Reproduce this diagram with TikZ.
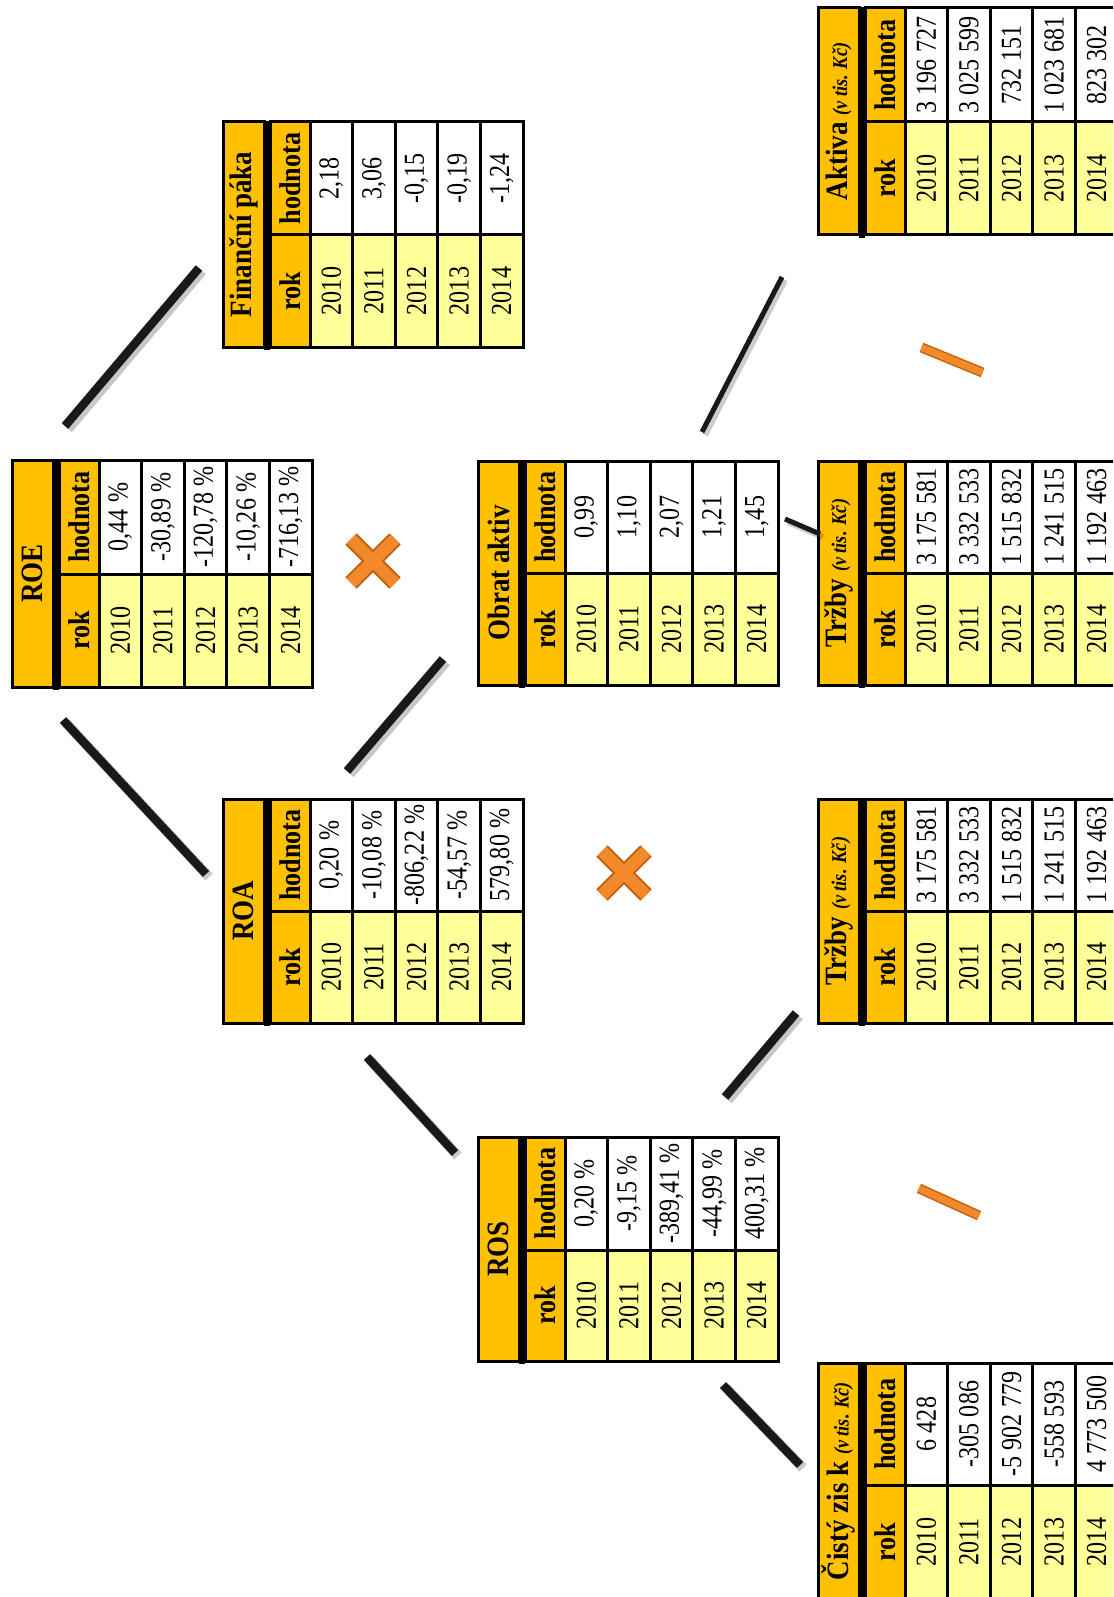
\documentclass[tikz,border=0pt]{standalone}
\usepackage{fontspec}
\setmainfont{Liberation Serif}
\usepackage{graphicx}
\usetikzlibrary{calc}
\definecolor{Gold}{HTML}{FFC000}
\definecolor{Cream}{HTML}{FFFF99}
\definecolor{Pumpkin}{HTML}{F2892B}
\definecolor{Rust}{HTML}{C4620E}
\newcommand\vtext[1]{\rotatebox{90}{\scalebox{.87}[1]{#1}}}
\newcommand\vnum[1]{\rotatebox{90}{\scalebox{.83}[1]{#1}}}
\newcommand\unit{{\itshape\fontsize{21}{22}\selectfont (v tis. Kč)}}
\tikzset{
 tabcell/.style={draw=black,line width=3pt,inner sep=0pt,outer sep=0pt,anchor=north west,minimum width=42.6},
 valcell/.style={tabcell,fill=white,font=\fontsize{29}{31}\selectfont},
 rokcell/.style={tabcell,fill=Cream,font=\fontsize{29}{31}\selectfont},
 headcell/.style={tabcell,fill=Gold,minimum width=40,font=\bfseries\fontsize{30}{32}\selectfont},
 titlecell/.style={tabcell,fill=Gold,minimum width=41,font=\bfseries\fontsize{31}{33}\selectfont},
 tabframe/.style={inner sep=0pt,outer sep=0pt,anchor=north west,minimum width=300},
 link/.style={line width=8.5pt,draw=black!90,preaction={draw=black,draw opacity=.22,line width=10pt,transform canvas={shift={(3,3)}}}},
 thinlink/.style={line width=5pt,draw=black!90,preaction={draw=black,draw opacity=.2,line width=6pt,transform canvas={shift={(3,3)}}}},
 oper/.style={line width=12pt,draw=Pumpkin,preaction={draw=Rust,line width=16pt}},
 bar/.style={line width=7pt,draw=Pumpkin,preaction={draw=Rust,line width=10pt}},
 timessign/.pic={\draw[oper] (-22,-22) -- (22,22) (-22,22) -- (22,-22);},
 divbar/.pic={\draw[bar] (-33,0) -- (33,0);}
}
% name, x, y, value part, year part, title, values 2010--2014
\newcommand\datatable[7]{%
 \node[tabframe,minimum height={#4+#5}] (#1) at (#2,#3) {};
 \node[titlecell,minimum height={#4+#5}] (#1-t) at (#2,#3) {\vtext{#6}};
 \node[headcell,minimum height=#4] (#1-h) at (#2+47,#3) {\vtext{hodnota}};
 \node[headcell,minimum height=#5] (#1-k) at (#2+47,#3+#4) {\vtext{rok}};
 \foreach \v [count=\i from 0] in {#7} {
  \node[valcell,minimum height=#4] (#1-v\i) at (#2+87+42.6*\i,#3) {\vnum{\v}};
  \node[rokcell,minimum height=#5] (#1-r\i) at (#2+87+42.6*\i,#3+#4) {\vnum{201\i}};
 }
 \draw[line width=6pt] (#2+44,#3-1) -- (#2+44,#3+#4+#5+3);
}

\begin{document}
\begin{tikzpicture}[x=1pt,y=-1pt]
\useasboundingbox (0,0) rectangle (1113,1597);
\clip (0,0) rectangle (1113,1597);
\fill[white] (0,0) rectangle (1113,1597);

% tables
\datatable{roe}{12}{460}{114}{113}{ROE}{{0,44 \%},{-30,89 \%},{-120,78 \%},{-10,26 \%},{-716,13 \%}}
\datatable{paka}{223}{122}{113}{112}{Finanční páka}{{2,18},{3,06},{-0,15},{-0,19},{-1,24}}
\datatable{roa}{223}{799}{112}{112}{ROA}{{0,20 \%},{-10,08 \%},{-806,22 \%},{-54,57 \%},{579,80 \%}}
\datatable{obrat}{478}{461}{112}{112}{Obrat aktiv}{{0,99},{1,10},{2,07},{1,21},{1,45}}
\datatable{ros}{478}{1137}{113}{111}{ROS}{{0,20 \%},{-9,15 \%},{-389,41 \%},{-44,99 \%},{400,31 \%}}
\datatable{aktiva}{818}{8}{114}{113}{Aktiva \unit}{{3 196 727},{3 025 599},{732 151},{1 023 681},{823 302}}
\datatable{trzbyA}{818}{461}{112}{112}{Tržby \unit}{{3 175 581},{3 332 533},{1 515 832},{1 241 515},{1 192 463}}
\datatable{trzbyB}{818}{799}{112}{112}{Tržby \unit}{{3 175 581},{3 332 533},{1 515 832},{1 241 515},{1 192 463}}
\datatable{zisk}{818}{1363}{122}{114}{Čistý zis k \unit}{{6 428},{-305 086},{-5 902 779},{-558 593},{4 773 500}}

% connectors
\draw[link] ($(roe.north west)+(53,-34)$) -- ($(paka.south west)+(-24,-79)$);
\draw[link] ($(roe.south west)+(51,33)$) -- ($(roa.north west)+(-17,75)$);
\draw[link] ($(roa.north)+(-26,-28)$) -- ($(obrat.south west)+(-35,-26)$);
\draw[link] ($(roa.south)+(-6,34)$) -- ($(ros.north west)+(-23,16)$);
\draw[link] ($(ros.north east)+(-53,-40)$) -- ($(trzbyB.south west)+(-22,-10)$);
\draw[link] ($(ros.south east)+(-55,24)$) -- ($(zisk.north west)+(-18,102)$);
\draw[thinlink] ($(obrat.north east)+(-76,-29)$) -- ($(aktiva.south west)+(-36,42)$);
\draw[thinlink] ($(obrat.east)+(7,-54)$) -- ($(trzbyA.north west)+(2,73)$);

% operators
\pic (mulA) at (373,561) {timessign};
\pic (mulB) at (624,873) {timessign};
\pic[rotate=-22.3] (divA) at (952,360) {divbar};
\pic[rotate=-24.4] (divB) at (949,1202) {divbar};
\end{tikzpicture}
\end{document}
